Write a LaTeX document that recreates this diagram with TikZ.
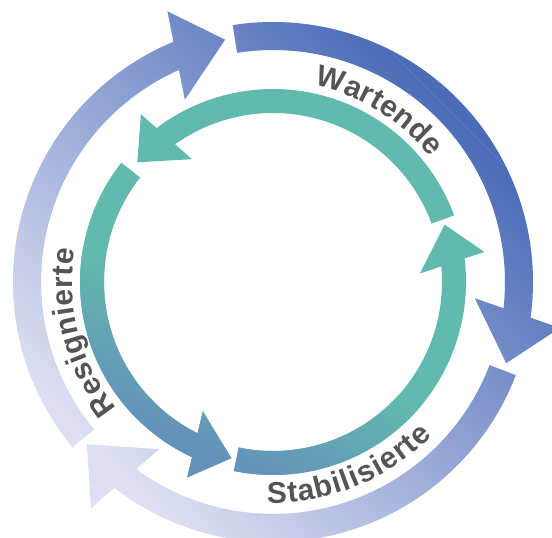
\documentclass[tikz,border=0pt]{standalone}
\usepackage{fontspec}
\setmainfont{Liberation Sans}
\usetikzlibrary{decorations.text}
\definecolor{ringdark}{RGB}{76,108,184}
\definecolor{ringlight}{RGB}{222,224,242}
\definecolor{ringteal}{RGB}{98,186,174}
\definecolor{ringsteel}{RGB}{100,146,186}
\definecolor{labelgray}{RGB}{84,84,86}
\newcommand{\labelfont}{\fontsize{30}{36}\selectfont\bfseries}

\begin{document}
\begin{tikzpicture}[x=1pt, y=1pt,
  ringlabel/.style={decorate, decoration={text along path, text align=fit to path,
    text color=labelgray, text={|\labelfont|#1}}}]
  \useasboundingbox (-273,-256) rectangle (279,282);

  % outer ring, clockwise
  \begin{scope}
    \clip \foreach \tailang/\tipang in {98.9/-19.2, -21/-138.9, 219.5/101.2} {
      (\tailang:260) arc[start angle=\tailang, end angle=\tipang+11.3, radius=260]
      -- ({\tipang+10.1}:290.5) -- (\tipang:247) -- ({\tipang+14.6}:202.5)
      -- ({\tipang+12.7}:232) arc[start angle=\tipang+12.7, end angle=\tailang, radius=232] -- cycle};
    \fill[ringlight] (-300,-300) rectangle (300,300);
    \fill[transform canvas={rotate=-45}, ringdark] (-400,246) rectangle (400,400);
    \shade[transform canvas={rotate=-45}, top color=ringdark, bottom color=ringlight] (-400,-246) rectangle (400,246);
  \end{scope}

  % inner ring, counterclockwise
  \begin{scope}
    \clip \foreach \tailang/\tipang in {20.2/138.6, 141.8/256.7, 258.3/378.5} {
      (\tailang:193) arc[start angle=\tailang, end angle=\tipang-11.5, radius=193]
      -- ({\tipang-10.4}:213.5) -- (\tipang:181) -- ({\tipang-15.2}:147.1)
      -- ({\tipang-13.2}:169) arc[start angle=\tipang-13.2, end angle=\tailang, radius=169] -- cycle};
    \fill[ringteal] (-300,-300) rectangle (300,300);
    \fill[transform canvas={rotate=-25}, ringsteel] (-300,-300) rectangle (300,-181);
    \shade[transform canvas={rotate=-25}, top color=ringteal, bottom color=ringsteel] (-300,-181) rectangle (300,-50);
  \end{scope}

  \path[ringlabel=Wartende] (78:201) arc[start angle=78, end angle=38.5, radius=201];
  \path[ringlabel=Resignierte] (218.8:201) arc[start angle=218.8, end angle=170.6, radius=201];
  \path[ringlabel=Stabilisierte] (268.5:221) arc[start angle=268.5, end angle=316, radius=221];
\end{tikzpicture}
\end{document}
